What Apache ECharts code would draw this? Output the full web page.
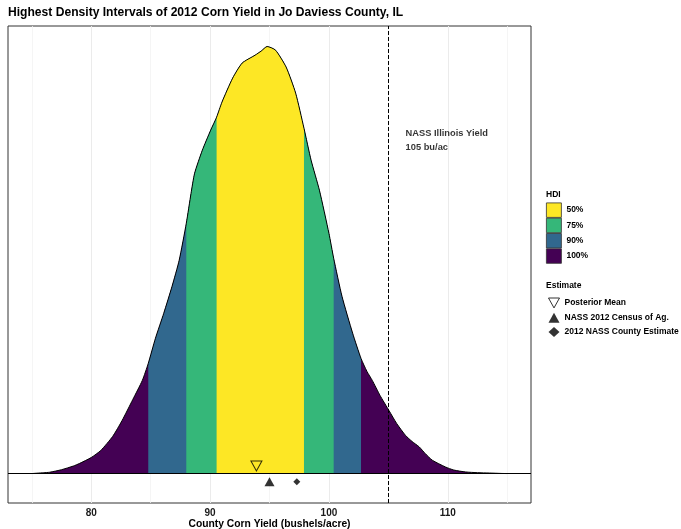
<!DOCTYPE html>
<html><head><meta charset="utf-8">
<script src="https://cdn.jsdelivr.net/npm/echarts@6/dist/echarts.min.js"></script>
<style>html,body{margin:0;padding:0;background:#fff}#c{width:681px;height:529px}</style>
</head><body><div id="c"></div>
<script>
// ---- data ----
const yieldX = [75, 76, 76.5, 77.5, 78.5, 79, 80, 80.8, 81.8, 82.6,
  83.5, 84.3, 84.8, 85.4, 86.1, 86.8, 87.4, 88.0, 88.4, 88.7,
  89.35, 90.05, 90.55, 91.0, 91.9, 92.7, 93.8, 94.3, 94.8, 95.5,
  96.4, 97.2, 97.9, 98.5, 99.2, 100.0, 100.4, 101.1, 102.0, 102.7,
  103.2, 103.65, 104.3, 105.05, 105.7, 106.45, 107.0, 107.6, 108.1, 108.7,
  109.8, 110.5, 111.5, 112.5, 113.5, 114.5, 115];
const density = [0, 0.00014, 0.00022, 0.00065, 0.00128, 0.0017, 0.00272, 0.00391, 0.00629, 0.00901,
  0.01258, 0.01581, 0.0187, 0.02295, 0.0272, 0.03179, 0.03621, 0.0425, 0.0476, 0.051,
  0.05491, 0.05831, 0.06052, 0.06307, 0.06715, 0.0697, 0.07106, 0.07174, 0.07252, 0.07191,
  0.06902, 0.0646, 0.05865, 0.05321, 0.04811, 0.0408, 0.03655, 0.03009, 0.0238, 0.01955,
  0.01734, 0.01581, 0.01326, 0.01071, 0.0085, 0.00646, 0.00544, 0.00452, 0.0034, 0.00226,
  0.00112, 0.0006, 0.00027, 0.00015, 0.00009, 0.00002, 0];
const hdiLevels = ['50%', '75%', '90%', '100%'];
const hdiLower = [90.55, 88.0, 84.8, 75];
const hdiUpper = [97.9, 100.4, 102.7, 115];
const hdiColors = ['#FDE725', '#35B779', '#31688E', '#440154'];
const estimateNames = ['Posterior Mean', 'NASS 2012 Census of Ag.', '2012 NASS County Estimate'];
const estimateX = [93.9, 95.0, 97.3];
const estimateY = [0.0013, -0.0014, -0.0014];
const stateYield = 105;
const stateLabel = 'NASS Illinois Yield\n105 bu/ac';
const stateLabelPos = [106.45, 0.0566];
const xTickLabels = [80, 90, 100, 110];
const xGridMinor = [75, 85, 95, 105, 115];

// ---- chart ----
const FONT = 'Liberation Sans, Arial, Helvetica, sans-serif';
const pts = yieldX.map((x, i) => [x, density[i]]);
const chart = echarts.init(document.getElementById('c'), null, {renderer: 'canvas'});

const gridLines = xTickLabels.map(v => ({xAxis: v, lineStyle: {color: '#EBEBEB', width: 1, type: 'solid'}}))
  .concat(xGridMinor.map(v => ({xAxis: v, lineStyle: {color: '#F2F2F2', width: 0.8, type: 'solid'}})));

const series = [];
series.push({
  type: 'line', name: 'grid', data: [], z: 1, silent: true,
  markLine: {z: 1, silent: true, symbol: ['none', 'none'], label: {show: false}, animation: false, data: gridLines}
});
[3, 2, 1, 0].forEach(i => {
  series.push({
    type: 'line', name: hdiLevels[i], z: 2, silent: true,
    data: pts.filter(p => p[0] >= hdiLower[i] && p[0] <= hdiUpper[i]),
    smooth: 0.2, symbol: 'none', showSymbol: false,
    lineStyle: {width: 0, color: hdiColors[i]},
    itemStyle: {color: hdiColors[i]},
    areaStyle: {color: hdiColors[i], opacity: 1}
  });
});
series.push({
  type: 'line', name: 'density', z: 3, silent: true, data: pts,
  smooth: 0.2, symbol: 'none', showSymbol: false,
  lineStyle: {color: '#000', width: 1},
  markLine: {
    z: 4, silent: true, symbol: ['none', 'none'], label: {show: false}, animation: false,
    data: [
      {yAxis: 0, lineStyle: {color: '#000', width: 1.1, type: 'solid'}},
      {xAxis: stateYield, lineStyle: {color: '#000', width: 1, type: [4, 2]}}
    ]
  }
});
const estSymbols = ['path://M0,0L10,0L5,9Z', 'triangle', 'diamond'];
const estSizes = [[11, 10], [10, 9], [7, 7]];
const estStyles = [
  {color: 'rgba(0,0,0,0)', borderColor: '#000', borderWidth: 1},
  {color: '#000'},
  {color: '#000'}
];
estimateNames.forEach((n, i) => {
  series.push({
    type: 'scatter', name: n, z: 6, silent: true,
    data: [[estimateX[i], estimateY[i]]],
    symbol: estSymbols[i], symbolSize: estSizes[i], itemStyle: estStyles[i]
  });
});
series.push({
  type: 'scatter', name: 'annot', z: 6, silent: true,
  data: [stateLabelPos], symbolSize: 0,
  label: {show: true, formatter: stateLabel, position: 'right', distance: 0, align: 'left',
    fontSize: 9.3, fontWeight: 'bold', lineHeight: 14, color: '#000', fontFamily: FONT}
});

const legendText = {fontSize: 8.5, fontWeight: 'bold', color: '#000', fontFamily: FONT, lineHeight: 10};

chart.setOption({
  animation: false,
  backgroundColor: '#fff',
  title: {
    text: 'Highest Density Intervals of 2012 Corn Yield in Jo Daviess County, IL',
    left: 8, top: 7, padding: 0,
    textStyle: {fontSize: 12.1, fontWeight: 'bold', color: '#000', fontFamily: FONT}
  },
  grid: {left: 8, right: 150, top: 26, bottom: 26, outerBoundsMode: 'none', containLabel: false,
    show: true, borderColor: '#333', borderWidth: 1, backgroundColor: 'transparent'},
  xAxis: {
    type: 'value', min: 73, max: 117,
    name: 'County Corn Yield (bushels/acre)', nameLocation: 'middle', nameGap: 16, nameMoveOverlap: false,
    nameTextStyle: {fontSize: 10.3, fontWeight: 'bold', color: '#000', fontFamily: FONT},
    axisLine: {show: false},
    axisTick: {show: true, customValues: xTickLabels, length: 3, lineStyle: {color: '#333'}},
    axisLabel: {show: true, customValues: xTickLabels, margin: 5, fontSize: 10, fontWeight: 'bold', color: '#1a1a1a', fontFamily: FONT},
    splitLine: {show: false}
  },
  yAxis: {
    type: 'value', min: -0.005, max: 0.076, show: false,
    splitLine: {show: false}
  },
  legend: [
    {
      orient: 'vertical', left: 546, top: 202.5, padding: 0,
      itemWidth: 15, itemHeight: 14.5, itemGap: 0, selectedMode: false,
      textStyle: legendText,
      data: hdiLevels.map((n, i) => ({name: n, icon: 'rect',
        itemStyle: {color: hdiColors[i], borderColor: '#333', borderWidth: 0.8}}))
    },
    {
      orient: 'vertical', left: 548, top: 297.5, padding: 0,
      itemWidth: 11, itemHeight: 10, itemGap: 4.3, selectedMode: false,
      textStyle: legendText,
      data: estimateNames.map((n, i) => ({name: n, icon: estSymbols[i], itemStyle: estStyles[i]}))
    }
  ],
  graphic: [
    {type: 'text', left: 546, top: 190, style: {text: 'HDI', fontSize: 8.5, fontWeight: 'bold', fill: '#000', fontFamily: FONT}},
    {type: 'text', left: 546, top: 281, style: {text: 'Estimate', fontSize: 8.5, fontWeight: 'bold', fill: '#000', fontFamily: FONT}}
  ],
  series: series
});
</script></body></html>
